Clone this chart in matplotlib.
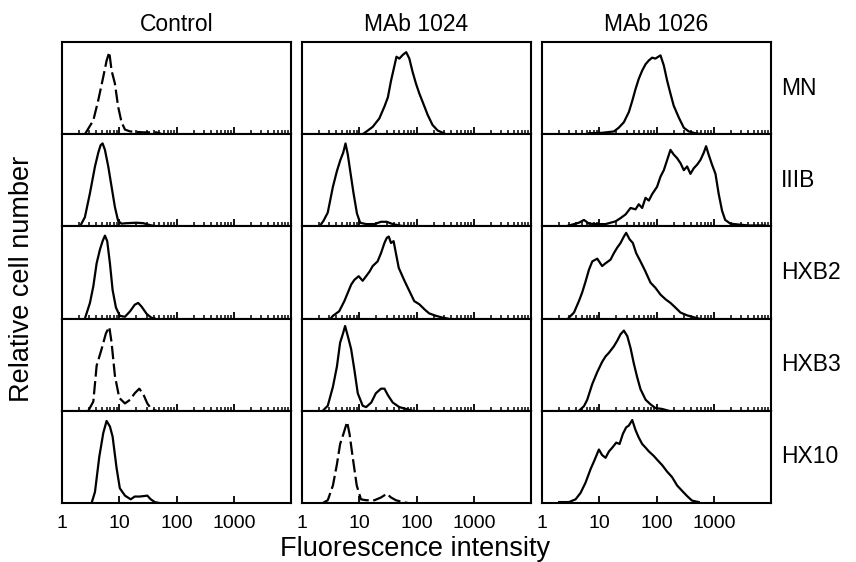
import numpy as np
import matplotlib
matplotlib.use("Agg")
import matplotlib.pyplot as plt
from matplotlib.ticker import LogLocator, NullFormatter, FixedLocator, FixedFormatter

plt.rcParams['font.family'] = ['Liberation Sans', 'DejaVu Sans']

columns = ["Control", "MAb 1024", "MAb 1026"]
rows = ["MN", "IIIB", "HXB2", "HXB3", "HX10"]
tick_values = [1, 10, 100, 1000]
tick_labels = ["1", "10", "100", "1000"]

# histograms: x as log10(fluorescence), y as fraction of panel height
# --- Control
ctrl_mn_x = [0.40, 0.547, 0.634, 0.72, 0.78, 0.826, 0.866, 0.924, 0.98, 1.04, 1.10, 1.19, 1.42, 1.65, 1.75]
ctrl_mn_y = [0.0, 0.15, 0.37, 0.62, 0.80, 0.89, 0.69, 0.55, 0.30, 0.13, 0.05, 0.03, 0.02, 0.02, 0.0]
ctrl_iiib_x = [0.314, 0.40, 0.488, 0.576, 0.634, 0.674, 0.709, 0.75, 0.808, 0.866, 0.924, 0.98, 1.04, 1.13, 1.30, 1.42, 1.53, 1.65]
ctrl_iiib_y = [0.0, 0.10, 0.36, 0.65, 0.80, 0.88, 0.90, 0.83, 0.65, 0.43, 0.21, 0.06, 0.03, 0.035, 0.04, 0.035, 0.015, 0.0]
ctrl_hxb2_x = [0.40, 0.488, 0.547, 0.605, 0.663, 0.709, 0.75, 0.79, 0.837, 0.884, 0.942, 1.01, 1.10, 1.19, 1.27, 1.33, 1.39, 1.48, 1.56, 1.62]
ctrl_hxb2_y = [0.0, 0.17, 0.35, 0.60, 0.75, 0.84, 0.90, 0.84, 0.60, 0.31, 0.12, 0.03, 0.02, 0.08, 0.15, 0.17, 0.13, 0.05, 0.01, 0.0]
ctrl_hxb3_x = [0.459, 0.547, 0.605, 0.692, 0.767, 0.826, 0.866, 0.924, 1.0, 1.10, 1.19, 1.27, 1.35, 1.42, 1.49, 1.56, 1.65]
ctrl_hxb3_y = [0.0, 0.10, 0.49, 0.67, 0.84, 0.91, 0.74, 0.38, 0.14, 0.08, 0.12, 0.19, 0.24, 0.18, 0.08, 0.02, 0.0]
ctrl_hx10_x = [0.517, 0.576, 0.651, 0.721, 0.779, 0.837, 0.884, 0.953, 1.01, 1.10, 1.20, 1.27, 1.36, 1.49, 1.55, 1.62, 1.70]
ctrl_hx10_y = [0.0, 0.12, 0.50, 0.76, 0.89, 0.83, 0.72, 0.38, 0.16, 0.08, 0.04, 0.07, 0.07, 0.08, 0.04, 0.01, 0.0]

# --- MAb 1024
m24_mn_x = [1.06, 1.15, 1.235, 1.35, 1.44, 1.50, 1.555, 1.61, 1.65, 1.70, 1.76, 1.82, 1.875, 1.93, 1.99, 2.05, 2.12, 2.195, 2.28, 2.37, 2.46, 2.51]
m24_mn_y = [0.0, 0.04, 0.08, 0.17, 0.30, 0.40, 0.58, 0.73, 0.84, 0.82, 0.86, 0.89, 0.82, 0.68, 0.55, 0.44, 0.33, 0.21, 0.10, 0.04, 0.015, 0.0]
m24_iiib_x = [0.305, 0.375, 0.45, 0.54, 0.61, 0.67, 0.72, 0.76, 0.80, 0.84, 0.90, 0.96, 1.015, 1.12, 1.265, 1.38, 1.48, 1.585, 1.70, 1.80]
m24_iiib_y = [0.0, 0.06, 0.15, 0.43, 0.60, 0.72, 0.80, 0.90, 0.78, 0.61, 0.36, 0.14, 0.04, 0.025, 0.025, 0.05, 0.05, 0.025, 0.01, 0.0]
m24_hxb2_x = [0.50, 0.54, 0.65, 0.74, 0.80, 0.86, 0.915, 0.99, 1.06, 1.12, 1.18, 1.235, 1.32, 1.38, 1.44, 1.48, 1.515, 1.555, 1.60, 1.64, 1.69,
              1.79, 1.875, 1.96, 2.05, 2.14, 2.22, 2.34, 2.46, 2.55]
m24_hxb2_y = [0.0, 0.03, 0.08, 0.19, 0.28, 0.37, 0.42, 0.46, 0.41, 0.46, 0.51, 0.57, 0.62, 0.71, 0.82, 0.875, 0.89, 0.82, 0.84, 0.71, 0.55,
              0.41, 0.30, 0.19, 0.155, 0.10, 0.057, 0.03, 0.01, 0.0]
m24_hxb3_x = [0.363, 0.45, 0.54, 0.61, 0.666, 0.712, 0.753, 0.80, 0.858, 0.916, 0.974, 1.06, 1.12, 1.21, 1.29, 1.38, 1.44, 1.50, 1.585, 1.70, 1.82, 1.93]
m24_hxb3_y = [0.0, 0.055, 0.26, 0.48, 0.74, 0.83, 0.92, 0.81, 0.67, 0.44, 0.19, 0.055, 0.04, 0.09, 0.19, 0.24, 0.24, 0.17, 0.09, 0.04, 0.02, 0.0]
m24_hx10_x = [0.363, 0.45, 0.54, 0.61, 0.666, 0.724, 0.788, 0.83, 0.887, 0.956, 1.03, 1.12, 1.265, 1.38, 1.48, 1.555, 1.64, 1.76, 1.85]
m24_hx10_y = [0.0, 0.03, 0.19, 0.42, 0.64, 0.75, 0.88, 0.75, 0.49, 0.19, 0.04, 0.03, 0.03, 0.06, 0.10, 0.06, 0.03, 0.01, 0.0]

# --- MAb 1026
m26_mn_x = [0.82, 1.05, 1.256, 1.34, 1.43, 1.517, 1.576, 1.634, 1.69, 1.75, 1.81, 1.866, 1.924, 1.98, 2.07, 2.128, 2.186, 2.244, 2.30,
            2.39, 2.477, 2.564, 2.68, 2.80]
m26_mn_y = [0.01, 0.015, 0.03, 0.07, 0.13, 0.24, 0.36, 0.49, 0.60, 0.69, 0.76, 0.80, 0.83, 0.82, 0.855, 0.745, 0.58, 0.44, 0.31,
            0.18, 0.07, 0.03, 0.01, 0.0]
m26_iiib_x = [0.413, 0.53, 0.645, 0.733, 0.82, 0.965, 1.11, 1.198, 1.285, 1.372, 1.46, 1.547, 1.634, 1.69, 1.75, 1.808, 1.866, 1.924,
              2.01, 2.07, 2.128, 2.186, 2.244, 2.30, 2.36, 2.42, 2.477, 2.535, 2.593, 2.65, 2.71, 2.767, 2.826, 2.866, 2.91, 2.97,
              3.03, 3.087, 3.145, 3.20, 3.29, 3.436, 3.61, 3.90]
m26_iiib_y = [0.0, 0.02, 0.04, 0.07, 0.03, 0.025, 0.025, 0.04, 0.055, 0.09, 0.13, 0.20, 0.185, 0.24, 0.20, 0.31, 0.28, 0.35,
              0.43, 0.54, 0.61, 0.72, 0.83, 0.78, 0.74, 0.685, 0.61, 0.65, 0.57, 0.63, 0.67, 0.72, 0.80, 0.87, 0.78, 0.67,
              0.57, 0.35, 0.17, 0.07, 0.03, 0.02, 0.01, 0.01]
m26_hxb2_x = [0.47, 0.558, 0.645, 0.70, 0.76, 0.82, 0.878, 0.965, 1.05, 1.11, 1.198, 1.256, 1.314, 1.372, 1.43, 1.47, 1.53, 1.587,
              1.645, 1.72, 1.80, 1.895, 1.98, 2.07, 2.157, 2.244, 2.33, 2.42, 2.535, 2.65, 2.74]
m26_hxb2_y = [0.01, 0.065, 0.19, 0.28, 0.40, 0.53, 0.62, 0.65, 0.57, 0.60, 0.64, 0.71, 0.77, 0.82, 0.89, 0.93, 0.86, 0.82,
              0.71, 0.62, 0.52, 0.39, 0.335, 0.26, 0.21, 0.17, 0.12, 0.065, 0.035, 0.015, 0.0]
m26_hxb3_x = [0.645, 0.733, 0.79, 0.878, 0.965, 1.05, 1.11, 1.17, 1.256, 1.314, 1.372, 1.43, 1.49, 1.547, 1.605, 1.66, 1.72, 1.81,
              1.895, 1.98, 2.10, 2.215]
m26_hxb3_y = [0.0, 0.05, 0.12, 0.29, 0.42, 0.53, 0.59, 0.63, 0.70, 0.76, 0.83, 0.87, 0.81, 0.68, 0.51, 0.37, 0.235, 0.12,
              0.07, 0.03, 0.02, 0.0]
m26_hx10_x = [0.30, 0.47, 0.587, 0.674, 0.76, 0.85, 0.907, 0.994, 1.05, 1.11, 1.17, 1.227, 1.297, 1.355, 1.413, 1.47, 1.517, 1.576,
              1.634, 1.69, 1.75, 1.81, 1.866, 1.953, 2.01, 2.10, 2.186, 2.273, 2.36, 2.45, 2.535, 2.62, 2.738]
m26_hx10_y = [0.01, 0.01, 0.04, 0.11, 0.22, 0.37, 0.45, 0.58, 0.52, 0.49, 0.56, 0.60, 0.655, 0.64, 0.75, 0.82, 0.84, 0.90,
              0.79, 0.71, 0.64, 0.60, 0.56, 0.51, 0.47, 0.41, 0.34, 0.28, 0.19, 0.13, 0.075, 0.026, 0.01]

curves = [
    [(ctrl_mn_x, ctrl_mn_y), (m24_mn_x, m24_mn_y), (m26_mn_x, m26_mn_y)],
    [(ctrl_iiib_x, ctrl_iiib_y), (m24_iiib_x, m24_iiib_y), (m26_iiib_x, m26_iiib_y)],
    [(ctrl_hxb2_x, ctrl_hxb2_y), (m24_hxb2_x, m24_hxb2_y), (m26_hxb2_x, m26_hxb2_y)],
    [(ctrl_hxb3_x, ctrl_hxb3_y), (m24_hxb3_x, m24_hxb3_y), (m26_hxb3_x, m26_hxb3_y)],
    [(ctrl_hx10_x, ctrl_hx10_y), (m24_hx10_x, m24_hx10_y), (m26_hx10_x, m26_hx10_y)],
]
dashed = [(0, 0), (3, 0), (4, 1)]

W, H = 856, 562
fig = plt.figure(figsize=(W / 100, H / 100), dpi=100)

lefts = [62, 302, 542]
pw = 229
top = 42
ph = 92.2

for r in range(5):
    for c in range(3):
        ax = fig.add_axes([lefts[c] / W, 1 - (top + ph * (r + 1)) / H, pw / W, ph / H])
        xs, ys = curves[r][c]
        ls = (0, (6, 2)) if (r, c) in dashed else '-'
        ax.plot(10 ** np.array(xs), ys, color='black', linewidth=1.6, linestyle=ls)
        ax.set_xscale('log')
        ax.set_xlim(1, 10000)
        ax.set_ylim(0, 1)
        ax.set_yticks([])
        ax.xaxis.set_major_locator(FixedLocator(tick_values))
        ax.xaxis.set_minor_locator(LogLocator(base=10, subs=np.arange(2, 10)))
        ax.xaxis.set_minor_formatter(NullFormatter())
        ax.tick_params(axis='x', which='major', direction='in', length=5, width=1.3)
        ax.tick_params(axis='x', which='minor', direction='in', length=3, width=1.1)
        if r == 4:
            ax.xaxis.set_major_formatter(FixedFormatter(tick_labels))
            ax.tick_params(axis='x', which='major', labelsize=14, pad=9)
        else:
            ax.xaxis.set_major_formatter(NullFormatter())
        for s in ax.spines.values():
            s.set_linewidth(1.5)
        if r == 0:
            ax.set_title(columns[c], fontsize=16.5, pad=8)
        if c == 2:
            ax.text(1.045, 0.5, rows[r], transform=ax.transAxes, fontsize=16.5,
                    ha='left', va='center')

fig.text(415 / W, 1 - 549 / H, "Fluorescence intensity", fontsize=19.5, ha='center', va='center')
fig.text(22 / W, 1 - 279 / H, "Relative cell number", fontsize=19.5, ha='center', va='center', rotation=90)

fig.savefig("out.png", dpi=100)
